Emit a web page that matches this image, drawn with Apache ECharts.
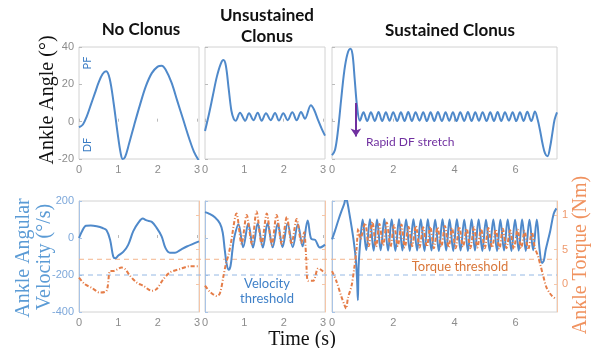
<!DOCTYPE html>
<html>
<head>
<meta charset="utf-8" />
<title>Ankle clonus</title>
<script src="https://cdn.jsdelivr.net/npm/echarts@6/dist/echarts.min.js"></script>
<style>html,body{margin:0;padding:0;background:#fff}</style>
</head>
<body>
<div id="chart" style="width:597px;height:348px"></div>
<script>
// ankle angle (deg) as [time s, value]
var noClonusAngle = [[0,-3],[0.1,-1.5],[0.2,3],[0.3,9],[0.4,15],[0.5,21],[0.6,25.5],[0.69,27],[0.78,23],[0.88,10],[0.98,-6],[1.06,-17],[1.11,-20],[1.17,-19],[1.27,-12],[1.4,-2],[1.55,9],[1.7,19],[1.85,26],[2.0,29.5],[2.1,30],[2.2,28],[2.35,21],[2.5,11],[2.65,1],[2.8,-9],[2.92,-16],[3.05,-21]];
var unsustainedAngle = [[0,-5],[0.1,4],[0.2,14],[0.3,24],[0.4,31],[0.47,33],[0.53,30],[0.6,18],[0.67,6],[0.73,1.5],[0.78,0.5],[0.89,4.8],[1.02,0.5],[1.12,4.5],[1.23,0.8],[1.34,4.8],[1.44,0.5],[1.55,4.5],[1.67,0.8],[1.78,4.7],[1.88,0.6],[1.99,4.5],[2.1,0.8],[2.22,5],[2.33,0.8],[2.44,5.2],[2.54,1.6],[2.69,8.8],[2.77,6.5],[2.88,0.5],[2.97,-4],[3.05,-7.5]];
var sustainedAngle = [[0,-18],[0.1,-15],[0.2,-4],[0.3,12],[0.4,27],[0.5,36],[0.6,39],[0.67,36],[0.74,23],[0.82,8],[0.91,0.5],
  [1.03,5],[1.15,0.3],[1.27,5],[1.40,0.4],[1.52,5.2],[1.64,0.3],[1.76,5],[1.88,0.5],[2.00,5.1],[2.13,0.3],[2.25,5],[2.37,0.4],[2.49,5.2],[2.61,0.3],[2.73,5],[2.86,0.5],[2.98,5.1],[3.10,0.3],[3.22,5],[3.34,0.4],[3.46,5.2],[3.59,0.3],[3.71,5],[3.83,0.5],[3.95,5.1],[4.07,0.3],[4.19,5],[4.32,0.4],[4.44,5.2],[4.56,0.3],[4.68,5],[4.80,0.5],[4.92,5.1],[5.05,0.3],[5.17,5],[5.29,0.4],[5.41,5.2],[5.53,0.3],[5.65,5],[5.78,0.5],[5.90,5.1],[6.02,0.3],[6.14,5],[6.26,0.4],[6.38,5.3],[6.51,0.3],[6.63,5.4],[6.72,1],
  [6.8,-5],[6.88,-12],[6.96,-17],[7.04,-18.5],[7.12,-14],[7.2,-6],[7.27,1],[7.35,5]];

// ankle angular velocity (deg/s)
var noClonusVel = [[0,0],[0.08,38],[0.18,66],[0.3,67],[0.45,63],[0.6,54],[0.7,42],[0.79,-9],[0.87,-100],[0.92,-110],[1.0,-95],[1.13,-74],[1.25,-37],[1.38,37],[1.51,83],[1.62,105],[1.72,95],[1.85,87],[1.97,56],[2.1,9],[2.2,-55],[2.31,-80],[2.44,-80],[2.57,-65],[2.74,-46],[3.05,-18]];
var unsustainedVel = [[0,140],[0.1,132],[0.25,112],[0.38,78],[0.45,30],[0.5,-60],[0.55,-140],[0.6,-172],[0.65,-150],[0.7,-60],[0.75,10],[0.85,75],[0.97,-50],[1.1,78],[1.22,-52],[1.34,80],[1.47,-52],[1.59,80],[1.72,-50],[1.85,78],[1.97,-50],[2.1,80],[2.23,-50],[2.36,75],[2.48,-45],[2.61,94],[2.7,-5],[2.8,-10],[2.92,-52],[3.05,-36]];
var sustainedVel = [[0,-7],[0.1,40],[0.22,103],[0.32,150],[0.4,185],[0.45,215],[0.5,195],[0.56,140],[0.64,60],[0.72,-30],[0.78,-120],[0.82,-230],[0.845,-336],[0.87,-150],[0.93,-7],
  [1.00,100],[1.12,-65],[1.24,102],[1.36,-68],[1.47,100],[1.59,-66],[1.71,103],[1.83,-68],[1.95,100],[2.07,-70],[2.19,102],[2.30,-68],[2.42,100],[2.54,-70],[2.66,102],[2.78,-68],[2.90,100],[3.02,-70],[3.13,101],[3.25,-68],[3.37,99],[3.49,-70],[3.61,101],[3.73,-68],[3.84,100],[3.96,-70],[4.08,101],[4.20,-68],[4.32,99],[4.44,-70],[4.56,100],[4.67,-68],[4.79,100],[4.91,-70],[5.03,99],[5.15,-68],[5.27,100],[5.39,-70],[5.50,99],[5.62,-68],[5.74,100],[5.86,-70],[5.98,99],[6.10,-68],[6.21,100],[6.33,-70],[6.45,98],[6.57,-66],[6.69,100],
  [6.78,-60],[6.86,-135],[6.92,-122],[6.98,-65],[7.06,-10],[7.13,39],[7.24,130],[7.33,160]];

// ankle torque (Nm)
var noClonusTorque = [[0,0.95],[0.15,0],[0.32,-0.5],[0.53,-1.2],[0.7,-0.95],[0.79,1.9],[0.87,1.9],[1.08,2.4],[1.17,2.2],[1.3,1.2],[1.47,0.24],[1.64,-0.24],[1.85,-0.95],[1.97,-0.7],[2.14,0.7],[2.31,1.7],[2.57,2.2],[2.82,2.6],[3.05,2.6]];
var unsustainedTorque = [[0,-0.2],[0.13,-1.1],[0.3,-1.7],[0.38,-1.3],[0.47,1.2],[0.53,2.9],[0.6,4.3],[0.66,6],[0.8,10.2],[0.93,5.8],[1.06,10],[1.19,5.8],[1.31,10.5],[1.44,5.8],[1.57,10.2],[1.7,5.7],[1.82,10],[1.95,5.8],[2.08,9.7],[2.2,5.8],[2.33,9.4],[2.45,6],[2.52,7.5],[2.57,4],[2.62,0.5],[2.75,0.5],[2.88,2.3],[3.05,1.6]];
var sustainedTorque = [[0,1.9],[0.14,0.5],[0.3,-1.7],[0.4,-2.9],[0.46,-3.5],[0.52,-2],[0.64,-0.2],[0.72,2.1],[0.8,5],[0.86,8],[0.93,6.5],
  [1.08,8.8],[1.20,5.5],[1.32,9],[1.44,5.4],[1.55,8.7],[1.67,5.6],[1.79,8.9],[1.91,5.4],[2.03,8.5],[2.15,5.5],[2.27,8.6],[2.38,5.3],[2.50,8.3],[2.62,5.5],[2.74,8.4],[2.86,5.3],[2.98,8.2],[3.10,5.4],[3.21,8.3],[3.33,5.2],[3.45,8.2],[3.57,5.4],[3.69,8.4],[3.81,5.3],[3.92,8.1],[4.04,5.2],[4.16,8.3],[4.28,5.4],[4.40,8.0],[4.52,5.2],[4.64,8.2],[4.75,5.3],[4.87,8.0],[4.99,5.2],[5.11,8.1],[5.23,5.3],[5.35,7.9],[5.47,5.1],[5.58,8.0],[5.70,5.2],[5.82,7.8],[5.94,5.1],[6.06,7.9],[6.18,5.2],[6.29,7.7],[6.41,5.0],[6.53,7.5],[6.63,5.2],
  [6.72,4.2],[6.8,2.9],[6.9,1.2],[7.0,-0.4],[7.1,-1.2],[7.19,-1.7],[7.33,-2.2]];

var shortTicks = [0, 1, 2, 3];
var longTicks = [0, 2, 4, 6];
var torqueTicks = [0, 5, 10];
var velocityThreshold = -200;
var torqueThreshold = 3.6;
var stretchArrow = [[0.78, 10], [0.78, -8]];

var BLUE = '#4f89ca', ORANGE = '#e57d48', GRAY = '#8c8c8c', BORDER = '#d2d2d2';

var gridPos = [
  [79, 47, 120, 112], [205, 47, 120, 112], [332, 47, 225, 112],
  [79, 201, 120, 111], [205, 201, 120, 111], [332, 201, 225, 111]
];
var grids = gridPos.map(function (g) {
  return { left: g[0], top: g[1], width: g[2], height: g[3], show: true,
    borderColor: BORDER, borderWidth: 1, outerBoundsMode: 'none' };
});

var xAxes = gridPos.map(function (g, i) {
  var ticks = (i % 3 === 2) ? longTicks : shortTicks;
  return {
    type: 'value', gridIndex: i, min: 0, max: (i % 3 === 2) ? 7.35 : 3.05,
    axisLine: { show: false }, splitLine: { show: false },
    axisTick: { inside: true, length: 3, customValues: ticks, lineStyle: { color: '#bbb' } },
    axisLabel: { customValues: ticks, color: GRAY, fontSize: 11, margin: 5, fontFamily: 'Liberation Sans' }
  };
});

function yAx(grid, min, max, ticks, showLabel, color, lineColor, pos) {
  return {
    type: 'value', gridIndex: grid, min: min, max: max, position: pos || 'left',
    splitLine: { show: false },
    axisLine: { show: !!lineColor, lineStyle: { color: lineColor } },
    axisTick: { inside: true, length: 3, customValues: ticks, lineStyle: { color: lineColor || '#bbb' } },
    axisLabel: { show: showLabel, customValues: ticks, color: color, fontSize: 11, margin: 5, fontFamily: 'Liberation Sans',
      formatter: function (v) { return (pos === 'right' && v === 10) ? '1' : String(v); } }
  };
}
var angleTicks = [-20, 0, 20, 40];
var velTicks = [-400, -200, 0, 200];
var yAxes = [
  yAx(0, -20, 40, angleTicks, true, GRAY), yAx(1, -20, 40, angleTicks, false, GRAY), yAx(2, -20, 40, angleTicks, false, GRAY),
  yAx(3, -400, 200, velTicks, true, '#7ea8da', '#a9c4e6'), yAx(4, -400, 200, velTicks, false, '#7ea8da', '#a9c4e6'), yAx(5, -400, 200, velTicks, false, '#7ea8da', '#a9c4e6'),
  yAx(3, -4, 12, torqueTicks, false, '#ee9a6e', '#f5c6a8', 'right'), yAx(4, -4, 12, torqueTicks, false, '#ee9a6e', '#f5c6a8', 'right'), yAx(5, -4, 12, torqueTicks, true, '#ee9a6e', '#f5c6a8', 'right')
];

function blueLine(data, i, yi) {
  return { type: 'line', xAxisIndex: i, yAxisIndex: yi, data: data, showSymbol: false, smooth: 0.35,
    lineStyle: { color: BLUE, width: 2 }, silent: true, z: 3 };
}
function orangeLine(data, i, yi) {
  return { type: 'line', xAxisIndex: i, yAxisIndex: yi, data: data, showSymbol: false, smooth: 0.3,
    lineStyle: { color: ORANGE, width: 2, type: [4, 2, 1, 2] }, silent: true, z: 4 };
}

var sustainedTop = blueLine(sustainedAngle, 2, 2);
sustainedTop.markLine = {
  silent: true, symbol: ['none', 'arrow'], symbolSize: 8, label: { show: false },
  lineStyle: { color: '#7030a0', width: 2, type: 'solid' },
  data: [[{ coord: stretchArrow[0] }, { coord: stretchArrow[1] }]]
};

var series = [
  blueLine(noClonusAngle, 0, 0), blueLine(unsustainedAngle, 1, 1), sustainedTop,
  blueLine(noClonusVel, 3, 3), blueLine(unsustainedVel, 4, 4), blueLine(sustainedVel, 5, 5),
  orangeLine(noClonusTorque, 3, 6), orangeLine(unsustainedTorque, 4, 7), orangeLine(sustainedTorque, 5, 8)
];

var chart = echarts.init(document.getElementById('chart'), null, { renderer: 'canvas' });
chart.setOption({
  animation: false, backgroundColor: '#fff',
  grid: grids, xAxis: xAxes, yAxis: yAxes, series: series
});

var SERIF = '20px "Liberation Serif", "DejaVu Serif", serif';
var SANS_B = 'bold 17px Lato, "Open Sans", sans-serif';
function txt(text, x, y, font, fill, rot, align) {
  return { type: 'text', x: x, y: y, rotation: rot || 0, silent: true, z: 10,
    style: { text: text, font: font, fill: fill, align: align || 'center', verticalAlign: 'middle' } };
}
var yVel = chart.convertToPixel({ yAxisIndex: 3 }, velocityThreshold);
var yTq = chart.convertToPixel({ yAxisIndex: 6 }, torqueThreshold);
var x0 = gridPos[3][0], x1 = gridPos[5][0] + gridPos[5][2];
var R = Math.PI / 2;
chart.setOption({
  graphic: [
    { type: 'line', silent: true, z: 1, shape: { x1: x0, y1: yTq, x2: x1, y2: yTq }, style: { stroke: '#f4b48c', lineWidth: 1, lineDash: [5, 4] } },
    { type: 'line', silent: true, z: 1, shape: { x1: x0, y1: yVel, x2: x1, y2: yVel }, style: { stroke: '#94b8e4', lineWidth: 1, lineDash: [5, 4] } },
    txt('No Clonus', 141, 30, SANS_B, '#111'),
    txt('Unsustained', 267, 16, SANS_B, '#111'),
    txt('Clonus', 267, 37, SANS_B, '#111'),
    txt('Sustained Clonus', 450, 31, SANS_B, '#111'),
    txt('Ankle Angle (°)', 48, 100, SERIF, '#111', R),
    txt('Ankle Angular', 24, 258, SERIF, '#5b9bd5', R),
    txt('Velocity (°/s)', 45, 257, SERIF, '#5b9bd5', R),
    txt('Ankle Torque (Nm)', 581, 255, SERIF, '#f0925f', R),
    txt('Time (s)', 302, 340, SERIF, '#111'),
    txt('PF', 87, 63, '11px Lato, sans-serif', '#3a7cc4', R),
    txt('DF', 87, 145, '11px Lato, sans-serif', '#3a7cc4', R),
    txt('Rapid DF stretch', 366, 142, '12px Lato, sans-serif', '#7030a0', 0, 'left'),
    txt('Velocity', 267, 284, '13px Lato, sans-serif', '#3f80c8'),
    txt('threshold', 267, 299, '13px Lato, sans-serif', '#3f80c8'),
    txt('Torque threshold', 460, 267, '13px Lato, sans-serif', '#d9773a')
  ]
});
</script>
</body>
</html>
